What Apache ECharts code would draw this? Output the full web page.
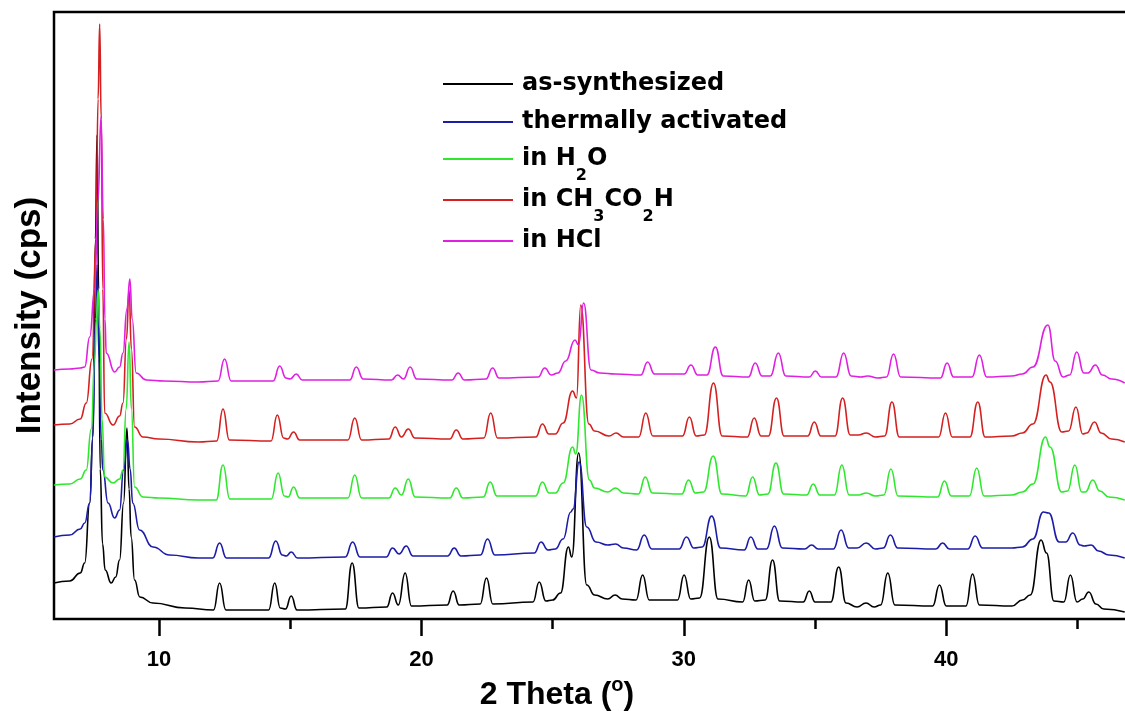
<!DOCTYPE html>
<html>
<head>
<meta charset="utf-8">
<title>XRD patterns</title>
<script src="https://cdn.jsdelivr.net/npm/echarts@6/dist/echarts.min.js"></script>
<style>
  html, body { margin: 0; padding: 0; background: #fff; }
  #chart { width: 1125px; height: 711px; }
</style>
</head>
<body>
<div id="chart"></div>
<script>
// 2 Theta (deg) vs intensity (each trace already offset)
const seriesNames = ["as-synthesized", "thermally activated", "in H2O", "in CH3CO2H", "in HCl"];
const seriesColors = ["#000000", "#1c1ca8", "#2ee82e", "#d42020", "#e020e0"];

const asSynthesized = [
    [6.0,36],[6.6,38],[7.0,46],[7.17,56],[7.36,116],[7.48,182],[7.58,380],[7.64,484],[7.7,330],[7.76,150],[7.85,75],[7.95,49],
    [8.18,36],[8.35,42],[8.5,59],[8.65,116],[8.78,191],[8.86,130],[8.94,82],[9.07,39],[9.27,22],[9.77,16],[11.0,11],
    [12.08,9],[12.31,36],[12.55,9],
    [14.18,9],[14.41,36],[14.62,11],[14.82,10],[15.04,23],[15.26,9],
    [17.1,10],[17.36,56],[17.62,11],
    [18.68,12],[18.9,26],[19.12,14],[19.38,46],[19.62,13],
    [20.98,14],[21.21,28],[21.44,14],
    [22.24,15],[22.48,41],[22.72,15],
    [24.25,17],[24.49,37],[24.74,18],
    [25.0,19],[25.3,26],[25.6,72],[25.73,62],[25.99,166],[26.3,34],[26.6,24],
    [27.1,20],[27.38,24],[27.65,20],
    [28.18,19],[28.43,44],[28.68,19],
    [29.76,19],[30.01,44],[30.26,20],
    [30.6,21],[30.97,82],[31.3,20],
    [32.24,17],[32.47,39],[32.7,18],
    [33.1,19],[33.38,59],[33.65,18],
    [34.55,17],[34.78,28],[35.0,17],
    [35.6,17],[35.9,52],[36.18,16],
    [36.6,12],[36.94,16],[37.25,12],
    [37.5,14],[37.77,46],[38.04,14],
    [39.48,13],[39.74,34],[40.0,13],
    [40.75,13],[41.0,45],[41.26,14],
    [42.5,13],[42.9,19],[43.2,24],[43.61,79],[43.82,66],[44.1,18],
    [44.48,17],[44.73,44],[44.98,17],
    [45.2,20],[45.43,27],[45.7,15],
    [46.0,10],[46.8,7]
];

const thermallyActivated = [
    [6.0,82],[6.6,84],[7.0,90],[7.17,96],[7.36,116],[7.48,182],[7.58,300],[7.64,354],[7.72,260],[7.8,180],[7.86,149],[8.06,116],
    [8.31,101],[8.5,109],[8.65,149],[8.8,179],[8.9,150],[9.0,116],[9.26,89],[9.77,72],[10.4,64],[11.5,61],
    [12.05,61],[12.31,76],[12.57,61],
    [14.18,61],[14.45,78],[14.7,64],[14.85,63],[15.04,67],[15.28,61],
    [17.1,62],[17.38,77],[17.66,62],
    [18.66,62],[18.9,71],[19.15,65],[19.42,73],[19.68,63],
    [21.0,63],[21.25,71],[21.5,63],
    [22.25,64],[22.52,80],[22.8,64],
    [24.3,66],[24.56,77],[24.82,69],
    [25.1,70],[25.4,80],[25.69,107],[25.78,110],[26.01,157],[26.3,92],[26.65,77],
    [27.1,74],[27.4,75],[27.7,71],
    [28.2,69],[28.49,84],[28.78,70],
    [29.82,70],[30.1,82],[30.38,71],
    [30.7,72],[31.06,103],[31.4,71],
    [32.3,69],[32.55,82],[32.82,70],
    [33.15,70],[33.45,93],[33.75,71],
    [34.6,70],[34.87,74],[35.12,70],
    [35.7,70],[35.99,89],[36.28,71],
    [36.6,71],[36.95,76],[37.3,70],
    [37.6,71],[37.87,84],[38.15,71],
    [39.6,70],[39.86,76],[40.12,70],
    [40.82,70],[41.1,83],[41.38,71],
    [42.5,71],[42.9,72],[43.3,80],[43.7,107],[43.9,106],[44.3,77],
    [44.55,77],[44.82,86],[45.1,74],
    [45.25,73],[45.52,74],[45.8,68],
    [46.2,64],[46.8,61]
];

const inWater = [
    [6.0,134],[6.6,135],[7.0,140],[7.23,149],[7.42,190],[7.55,260],[7.62,300],[7.68,329],[7.75,290],[7.83,200],[7.93,142],[8.25,136],
    [8.5,140],[8.63,149],[8.75,210],[8.86,277],[8.95,210],[9.07,132],[9.39,122],[10.0,121],[11.5,119],
    [12.18,119],[12.44,154],[12.7,120],
    [14.28,120],[14.54,146],[14.78,123],[14.92,122],[15.13,132],[15.36,121],
    [17.2,121],[17.46,144],[17.72,121],
    [18.76,121],[19.0,131],[19.24,124],[19.5,140],[19.76,122],
    [21.08,121],[21.33,131],[21.58,121],
    [22.36,122],[22.62,137],[22.88,123],
    [24.35,123],[24.61,137],[24.87,126],
    [25.1,126],[25.4,136],[25.76,172],[25.88,165],[26.1,224],[26.4,139],[26.6,131],
    [27.1,127],[27.4,131],[27.7,126],
    [28.27,125],[28.53,142],[28.8,126],
    [29.92,125],[30.18,139],[30.44,126],
    [30.75,127],[31.12,163],[31.45,125],
    [32.36,123],[32.62,142],[32.88,124],
    [33.2,125],[33.51,156],[33.8,125],
    [34.68,124],[34.93,135],[35.18,124],
    [35.74,124],[36.02,154],[36.3,124],
    [36.65,124],[36.95,126],[37.3,123],
    [37.62,124],[37.89,150],[38.16,123],
    [39.67,122],[39.93,138],[40.19,123],
    [40.88,123],[41.16,151],[41.44,123],
    [42.5,124],[42.9,127],[43.3,135],[43.78,182],[43.95,172],[44.4,127],
    [44.62,128],[44.9,154],[45.16,127],
    [45.3,127],[45.58,139],[45.85,128],
    [46.2,122],[46.8,119]
];

const inAceticAcid = [
    [6.0,194],[6.6,195],[7.0,200],[7.23,216],[7.45,260],[7.6,380],[7.68,520],[7.74,595],[7.8,500],[7.86,330],[7.93,206],[8.25,194],
    [8.5,203],[8.63,216],[8.76,280],[8.86,329],[8.95,270],[9.07,192],[9.39,182],[10.0,180],[11.5,177],
    [12.2,178],[12.44,210],[12.68,179],
    [14.27,178],[14.51,204],[14.75,181],[14.9,180],[15.13,187],[15.36,179],
    [17.2,179],[17.46,201],[17.72,179],
    [18.76,180],[19.0,192],[19.24,182],[19.5,190],[19.75,181],
    [21.08,180],[21.33,189],[21.58,180],
    [22.38,181],[22.64,206],[22.9,181],
    [24.36,182],[24.61,195],[24.86,185],
    [25.1,185],[25.4,196],[25.76,228],[25.91,221],[26.07,314],[26.38,195],[26.6,188],
    [27.15,183],[27.42,186],[27.7,182],
    [28.28,182],[28.55,206],[28.82,183],
    [29.95,183],[30.21,202],[30.47,183],
    [30.78,184],[31.13,236],[31.46,183],
    [32.42,182],[32.68,201],[32.94,183],
    [33.22,183],[33.53,221],[33.82,183],
    [34.72,183],[34.97,197],[35.22,183],
    [35.76,183],[36.05,221],[36.34,184],
    [36.65,184],[36.95,186],[37.3,182],
    [37.65,183],[37.93,217],[38.21,182],
    [39.71,182],[39.97,206],[40.23,182],
    [40.9,182],[41.2,217],[41.48,182],
    [42.5,183],[42.9,186],[43.3,195],[43.8,244],[43.95,237],[44.4,187],
    [44.66,188],[44.94,212],[45.2,185],
    [45.35,186],[45.65,197],[45.9,186],
    [46.3,180],[46.8,177]
];

const inHCl = [
    [6.0,249],[6.6,250],[7.0,251],[7.17,252],[7.36,282],[7.55,330],[7.68,420],[7.79,502],[7.88,400],[7.94,300],[7.99,266],[8.31,247],
    [8.5,252],[8.63,266],[8.78,310],[8.89,340],[8.98,300],[9.13,246],[9.52,239],[10.2,238],[11.5,237],
    [12.25,238],[12.5,260],[12.75,238],
    [14.35,238],[14.6,253],[14.84,241],[15.0,240],[15.23,245],[15.46,239],
    [17.27,239],[17.52,252],[17.78,240],
    [18.86,239],[19.09,244],[19.32,240],[19.57,252],[19.82,240],
    [21.16,239],[21.4,246],[21.64,239],
    [22.46,240],[22.71,251],[22.96,241],
    [24.45,242],[24.7,251],[24.95,244],
    [25.2,246],[25.5,258],[25.85,279],[25.99,274],[26.18,316],[26.46,249],[26.8,246],
    [27.4,245],
    [28.36,244],[28.62,257],[28.88,245],
    [30.01,245],[30.27,254],[30.53,244],
    [30.88,244],[31.2,272],[31.5,243],
    [32.46,242],[32.72,256],[32.98,243],
    [33.3,243],[33.6,266],[33.88,243],
    [34.78,242],[35.01,248],[35.24,242],
    [35.8,242],[36.09,266],[36.37,243],
    [36.75,242],[37.0,243],[37.4,241],
    [37.72,242],[37.99,265],[38.26,242],
    [39.78,241],[40.03,256],[40.28,242],
    [40.98,242],[41.26,264],[41.54,242],
    [42.5,243],[42.9,245],[43.3,252],[43.87,294],[44.15,258],[44.45,242],
    [44.7,244],[44.97,267],[45.24,246],
    [45.4,246],[45.68,254],[45.95,244],
    [46.3,240],[46.8,236]
];

const majorTicks = [10, 20, 30, 40];
const minorTicks = [15, 25, 35, 45];
const legendCenters = [84, 122, 159, 200, 241];

const seriesData = [asSynthesized, thermallyActivated, inWater, inAceticAcid, inHCl];

const fontFamily = "'Liberation Sans', Arial, sans-serif";
const legendFont = "'DejaVu Sans', sans-serif";

// chemical formulas get subscripts in the legend
const legendLabels = {
    "in H2O": "in H{s|2}O",
    "in CH3CO2H": "in CH{s|3}CO{s|2}H"
};

function buildLegends() {
    return seriesNames.map((name, i) => {
        const hasSub = name in legendLabels;
        const itemH = hasSub ? 50 : 26;
        return {
            data: [name],
            left: 443,
            top: legendCenters[i] - itemH / 2,
            padding: 0,
            icon: "rect",
            itemWidth: 70,
            itemHeight: 2,
            selectedMode: false,
            formatter: (n) => legendLabels[n] || n,
            textStyle: {
                fontFamily: legendFont,
                fontWeight: "bold",
                fontSize: 24,
                lineHeight: 26,
                color: "#000",
                padding: [0, 0, 0, 4],
                rich: {
                    s: { fontFamily: legendFont, fontWeight: "bold", fontSize: 16, lineHeight: 16, padding: [34, 0, 0, 0], color: "#000" }
                }
            }
        };
    });
}

const chart = echarts.init(document.getElementById("chart"), null, { renderer: "canvas" });

const option = {
    animation: false,
    backgroundColor: "#fff",
    grid: {
        left: 54, top: 12, width: 1076, bottom: 92,
        outerBoundsMode: "none",
        containLabel: false,
        show: true, borderColor: "#000", borderWidth: 2.5, backgroundColor: "transparent"
    },
    legend: buildLegends(),
    xAxis: [
        {
            type: "value", min: 6, max: 47,
            name: "2 Theta ({sup|o})",
            nameLocation: "middle",
            nameGap: 52,
            nameTextStyle: {
                fontFamily: fontFamily, fontWeight: "bold", fontSize: 32, lineHeight: 34, color: "#000",
                padding: [0, 70, 0, 0],
                rich: { sup: { fontFamily: fontFamily, fontWeight: "bold", fontSize: 20, lineHeight: 20, padding: [0, 0, 18, 0], color: "#000" } }
            },
            axisLine: { show: false },
            splitLine: { show: false },
            axisTick: { show: true, customValues: majorTicks, length: 17, lineStyle: { color: "#000", width: 2.5 } },
            axisLabel: {
                customValues: majorTicks, margin: 30,
                fontFamily: fontFamily, fontWeight: "bold", fontSize: 22, color: "#000"
            }
        },
        {
            type: "value", min: 6, max: 47, position: "bottom",
            axisLine: { show: false },
            splitLine: { show: false },
            axisLabel: { show: false },
            axisTick: { show: true, customValues: minorTicks, length: 10, lineStyle: { color: "#000", width: 2.5 } }
        }
    ],
    yAxis: {
        type: "value", min: 0, max: 607,
        name: "Intensity (cps)",
        nameLocation: "middle",
        nameGap: 6,
        nameTextStyle: { fontFamily: fontFamily, fontWeight: "bold", fontSize: 35, color: "#000" },
        axisLine: { show: false },
        axisTick: { show: false },
        axisLabel: { show: false },
        splitLine: { show: false }
    },
    series: seriesNames.map((name, i) => ({
        name: name,
        type: "line",
        data: seriesData[i],
        symbol: "none",
        smooth: 0.5,
        smoothMonotone: "x",
        color: seriesColors[i],
        lineStyle: { width: 1.6, color: seriesColors[i] },
        z: 2 + i
    }))
};

chart.setOption(option);
</script>
</body>
</html>
